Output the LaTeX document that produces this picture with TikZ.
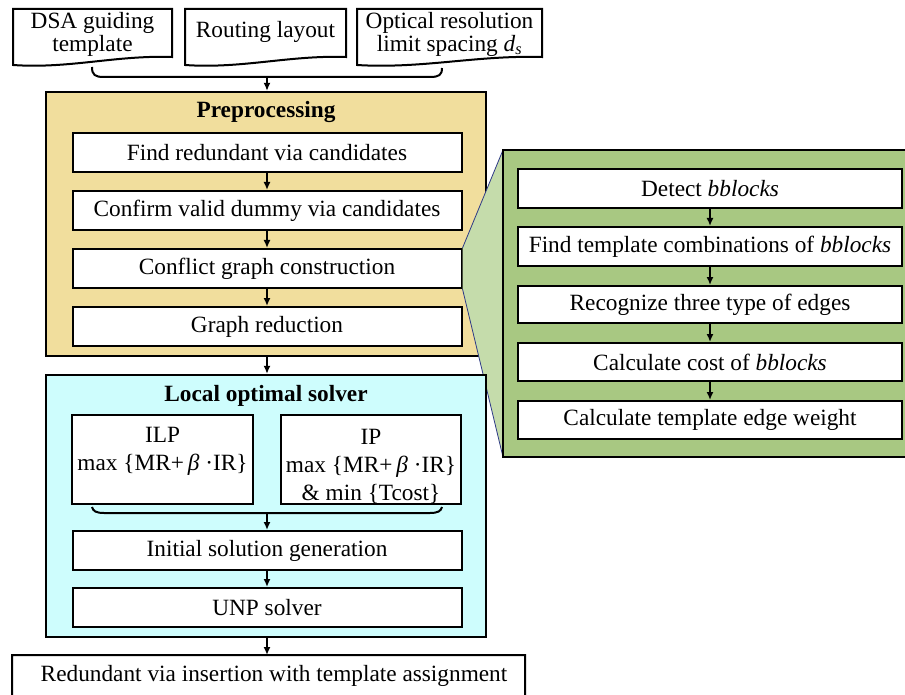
\documentclass[tikz,border=0pt]{standalone}
\usepackage{fontspec}
\setmainfont{Liberation Serif}
\usetikzlibrary{arrows.meta}
\definecolor{beige}{RGB}{241,222,157}
\definecolor{lcyan}{RGB}{206,253,253}
\definecolor{dgreen}{RGB}{168,200,130}
\definecolor{lgreen}{RGB}{197,220,171}
\definecolor{zline}{RGB}{46,58,135}
\newcommand{\docpath}[4]{(#1,#3) -- (#2,#3) -- (#2,{#4-8}) .. controls ({#1+0.65*(#2-#1)},{#4-10}) and ({#1+0.35*(#2-#1)},{#4+4}) .. (#1,#4) -- cycle}
\tikzset{
  txt/.style={font=\fontsize{23.3}{28}\selectfont, inner sep=0pt, align=center},
  box/.style={draw, line width=2pt, fill=white, txt},
  container/.style={draw, line width=2.2pt, inner sep=0pt},
  title/.style={txt, font=\fontsize{23.3}{28}\selectfont\bfseries},
  arr/.style={-{Latex[length=8pt,width=7pt]}, line width=1.6pt},
  brace/.style={line width=2pt},
  docbox/.style={line width=2pt, draw, fill=white}
}
\begin{document}
\begin{tikzpicture}[x=1pt,y=-1pt]
\useasboundingbox (0,0) rectangle (905,695);
% input documents
\draw[docbox] \docpath{13}{172}{9}{65};
\draw[docbox] \docpath{185}{346}{9}{65};
\draw[docbox] \docpath{357}{542}{9}{65};
\node[txt, font=\fontsize{23.3}{23}\selectfont] (dsa) at (92.5,34) {DSA guiding\\template};
\node[txt] (rout) at (265.5,32) {Routing layout};
\node[txt, font=\fontsize{23.3}{23}\selectfont] (opt) at (449.5,34) {Optical resolution\\limit spacing \textit{d}\textsubscript{\textit{s}}};
\draw[brace] (92,67) .. controls (92,75) and (95,77) .. (104,77) -- (430,77) .. controls (439,77) and (442,75) .. (442,68);
\coordinate (b1) at (267,77);
% preprocessing
\node[container, fill=beige, minimum width=440pt, minimum height=264pt] (pre) at (266,224) {};
\node[title] (pret) at (266,112) {Preprocessing};
\node[box, minimum width=389pt, minimum height=39pt] (find) at (267,152.5) {Find redundant via candidates};
\node[box, minimum width=389pt, minimum height=39pt] (conf) at (267,210.5) {Confirm valid dummy via candidates};
\node[box, minimum width=389pt, minimum height=39pt] (cg) at (267,268.5) {Conflict graph construction};
\node[box, minimum width=389pt, minimum height=39pt] (gr) at (267,326.5) {Graph reduction};
\draw[arr] (b1) -- (b1 |- pre.north);
\draw[arr] (find) -- (conf);
\draw[arr] (conf) -- (cg);
\draw[arr] (cg) -- (gr);
% zoom trapezoid
\fill[lgreen] (cg.north east) -- (503,150) -- (503,457) -- (cg.south east) -- cycle;
\draw[zline, line width=0.8pt] (cg.north east) -- (503,150);
\draw[zline, line width=0.8pt] (cg.south east) -- (503,457);
% local optimal solver
\node[container, fill=lcyan, minimum width=440pt, minimum height=262pt] (loc) at (266,506) {};
\node[title] (loct) at (266,396) {Local optimal solver};
\node[box, minimum width=181pt, minimum height=89pt] (ilp) at (162.5,459.5) {};
\node[box, minimum width=180pt, minimum height=89pt] (ip) at (371,459.5) {};
\node[txt] (ilpt) at (162.5,467) {ILP\\max \{MR+\,\textit{β}\ ·IR\}\\\strut};
\node[txt] (ipt) at (371,466) {IP\\max \{MR+\,\textit{β}\ ·IR\}\\\&\ min \{Tcost\}};
\draw[brace] (92,507) .. controls (93,511) and (96,513) .. (104,513) -- (430,513) .. controls (438,513) and (441,511) .. (442,507);
\coordinate (b2) at (267,513);
\node[box, minimum width=389pt, minimum height=39pt] (init) at (267,550.5) {Initial solution generation};
\node[box, minimum width=389pt, minimum height=39pt] (unp) at (267,607.5) {UNP solver};
\draw[arr] (b2) -- (init);
\draw[arr] (init) -- (unp);
\draw[arr] (pre.south -| find) -- (loc.north -| find);
% output document
\draw[docbox] \docpath{12}{525}{655}{707};
\node[txt] (out) at (274,676) {Redundant via insertion with template assignment};
\coordinate (b3) at (267,655);
\draw[arr] (loc.south -| find) -- (b3);
% detail panel
\draw[container, fill=dgreen] (503,150) rectangle (915,457);
\node[box, minimum width=384pt, minimum height=39pt] (d1) at (710,188.5) {Detect \textit{bblocks}};
\node[box, minimum width=384pt, minimum height=39pt] (d2) at (710,246.5) {Find template combinations of \textit{bblocks}};
\node[box, minimum width=384pt, minimum height=37pt] (d3) at (710,304.5) {Recognize three type of edges};
\node[box, minimum width=384pt, minimum height=38pt] (d4) at (710,362) {Calculate cost of \textit{bblocks}};
\node[box, minimum width=384pt, minimum height=38pt] (d5) at (710,420) {Calculate template edge weight};
\draw[arr] (d1) -- (d2);
\draw[arr] (d2) -- (d3);
\draw[arr] (d3) -- (d4);
\draw[arr] (d4) -- (d5);
\end{tikzpicture}
\end{document}
